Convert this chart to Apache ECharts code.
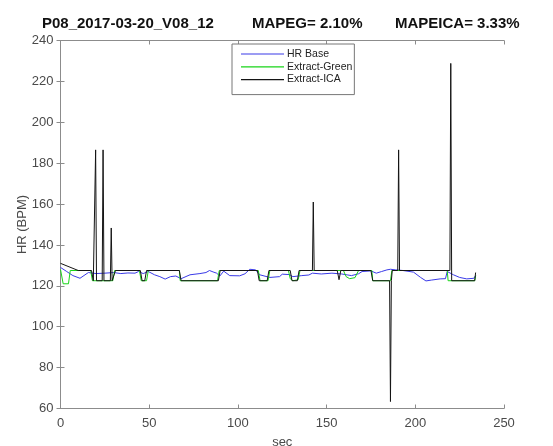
<!DOCTYPE html>
<html>
<head>
<meta charset="utf-8">
<script src="https://cdn.jsdelivr.net/npm/echarts@6/dist/echarts.min.js"></script>
<style>html,body{margin:0;padding:0;background:#fff;}#c{width:553px;height:446px;}</style>
</head>
<body>
<div id="c"></div>
<script>
// ---- data (seconds, BPM) ----
const titleParts = ['P08_2017-03-20_V08_12', 'MAPEG= 2.10%', 'MAPEICA= 3.33%'];
const seriesNames = ['HR Base', 'Extract-Green', 'Extract-ICA'];

const baseT = [0, 3.5, 7, 11, 15.7, 20, 25, 30, 34, 38, 42, 44, 46.6, 49.5, 53, 56, 59, 62, 65, 68, 73, 78.6, 82, 84, 86, 88, 89.8, 92, 95.4, 101, 104, 106.7, 110, 112.3, 118, 123.5, 125, 129, 131, 136, 140, 142, 147, 153, 158.5, 162, 164, 168, 170, 175, 178, 181, 184, 186, 189, 193, 199, 203, 206, 209, 214, 217, 218, 219, 221.5, 225, 229, 233, 234];
const baseV = [129, 127, 125, 123.7, 126.5, 126, 126.2, 126.5, 126, 126.3, 126.2, 127, 126, 127, 125.4, 124.5, 123.3, 124.5, 124.8, 123.5, 125.4, 126, 126.5, 127.5, 126.8, 126.2, 124.8, 127.2, 125, 124.9, 125.9, 128.1, 127.8, 125.4, 124.1, 124.5, 125.7, 125.5, 124.5, 125, 125.3, 126.2, 125.8, 126.2, 125.8, 125.3, 125, 125.9, 127, 127.3, 126.2, 127, 127.8, 128.1, 127.8, 127.5, 126.7, 124.1, 122.4, 122.8, 123.4, 123.5, 127, 126.7, 125.4, 124.1, 123.4, 123.7, 125];

const greenT = [0, 1.5, 4.5, 5.5, 17, 18, 29.5, 30.5, 44.5, 45.5, 48.5, 49.5, 67, 67.5, 88.5, 89.5, 111.5, 112.5, 117, 118, 128.5, 129.5, 131, 134, 135, 159.5, 161, 163, 166, 168, 175.5, 176, 186, 186.8, 218, 218.5, 233.5, 234];
const greenV = [128, 121, 121, 127.5, 127.5, 122.5, 122.5, 127.5, 127.5, 122.5, 122.5, 127.5, 127.5, 122.5, 122.5, 127.5, 127.5, 122.5, 122.5, 127.5, 127.5, 123.5, 122.5, 123, 127.5, 127.5, 124.5, 123.5, 124, 127.5, 127.5, 122.5, 122.5, 127.5, 127.5, 122.5, 122.5, 125];

const icaT = [0, 10, 17.5, 18.5, 19.3, 19.8, 20.3, 23.5, 24, 24.5, 28.1, 28.6, 29.1, 30, 31, 45, 46, 47.5, 48.5, 67, 68, 89, 90, 111, 112, 116.5, 117.5, 129.5, 130.5, 133.5, 134.5, 142, 142.5, 143, 156, 157, 158, 175, 176, 185.5, 186, 186.5, 187, 190.1, 190.6, 191.1, 219.5, 220, 220.5, 233.5, 234];
const icaV = [131, 127.5, 127.5, 122.5, 122.5, 186.5, 122.5, 122.5, 186.5, 122.5, 122.5, 148.3, 122.5, 122.5, 127.5, 127.5, 122.5, 122.5, 127.5, 127.5, 122.5, 122.5, 127.5, 127.5, 122.5, 122.5, 127.5, 127.5, 122.5, 122.5, 127.5, 127.5, 161, 127.5, 127.5, 123, 127.5, 127.5, 122.5, 122.5, 63.4, 122.5, 127.5, 127.5, 186.5, 127.5, 127.5, 228.8, 122.5, 122.5, 126.5];

const xTicks = [0, 50, 100, 150, 200, 250];
const yTicks = [60, 80, 100, 120, 140, 160, 180, 200, 220, 240];

function pairs(t, v) { return t.map((x, i) => [x, v[i]]); }

const FONT = 'Liberation Sans, Arial, Helvetica, sans-serif';
const AX = '#8c8c8c';
const LBL = '#4a4a4a';

const chart = echarts.init(document.getElementById('c'), null, {renderer: 'canvas'});
const axisCommon = {
  axisLine: {show: true, lineStyle: {color: AX, width: 1}},
  axisTick: {show: true, inside: true, length: 4, lineStyle: {color: AX}},
  splitLine: {show: false}
};
chart.setOption({
  animation: false,
  backgroundColor: '#fff',
  title: [
    {text: titleParts[0], left: 42, top: 16},
    {text: titleParts[1], left: 252, top: 16},
    {text: titleParts[2], left: 395, top: 16}
  ].map(t => Object.assign(t, {padding: 0, textStyle: {fontFamily: FONT, fontWeight: 'bold', fontSize: 15, color: '#111'}})),
  grid: {left: 60.5, right: 49, top: 40.5, bottom: 37.5, containLabel: false, outerBoundsMode: 'none'},
  legend: {
    data: seriesNames,
    orient: 'vertical',
    left: 232, top: 44,
    padding: [4, 2, 9, 9],
    icon: 'rect',
    itemWidth: 43, itemHeight: 1.2, itemGap: 0.8,
    borderColor: '#777', borderWidth: 1, backgroundColor: '#fff',
    textStyle: {fontFamily: FONT, fontSize: 10.5, lineHeight: 12, color: '#222', padding: [0, 0, 0, -2]}
  },
  xAxis: [
    Object.assign({type: 'value', min: xTicks[0], max: xTicks[xTicks.length - 1], interval: 50,
      name: 'sec', nameLocation: 'middle', nameGap: 27, nameMoveOverlap: false,
      nameTextStyle: {fontFamily: FONT, fontSize: 13, color: LBL},
      axisLabel: {fontFamily: FONT, fontSize: 13, color: LBL, margin: 8}}, axisCommon),
    Object.assign({type: 'value', position: 'top', min: 0, max: 250, interval: 50,
      axisLabel: {show: false}}, axisCommon)
  ],
  yAxis: [
    Object.assign({type: 'value', min: yTicks[0], max: yTicks[yTicks.length - 1], interval: 20,
      name: 'HR (BPM)', nameLocation: 'middle', nameGap: 32, nameRotate: 90, nameMoveOverlap: false,
      nameTextStyle: {fontFamily: FONT, fontSize: 13, color: LBL},
      axisLabel: {fontFamily: FONT, fontSize: 13, color: LBL, margin: 7}}, axisCommon),
    Object.assign({type: 'value', position: 'right', min: 60, max: 240, interval: 20,
      axisLabel: {show: false}}, axisCommon)
  ],
  series: [
    {name: seriesNames[0], type: 'line', data: pairs(baseT, baseV), symbol: 'none', smooth: false,
      lineStyle: {color: '#3a3ae8', width: 1}, itemStyle: {color: '#3a3ae8'}},
    {name: seriesNames[1], type: 'line', data: pairs(greenT, greenV), symbol: 'none',
      lineStyle: {color: '#19d419', width: 1}, itemStyle: {color: '#19d419'}},
    {name: seriesNames[2], type: 'line', data: pairs(icaT, icaV), symbol: 'none',
      lineStyle: {color: '#141414', width: 1}, itemStyle: {color: '#141414'}}
  ]
});
</script>
</body>
</html>
